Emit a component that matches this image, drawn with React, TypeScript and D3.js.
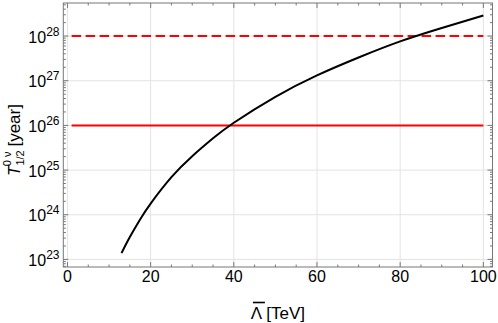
import React from "react";
import * as d3 from "d3";

const lambdaTeV = [13, 15, 17.5, 20, 25, 30, 35, 40, 50, 60, 70, 80, 90, 100];
const halfLifeExp = [23.14, 23.5, 23.9, 24.25, 24.84, 25.31, 25.71, 26.06, 26.64, 27.12, 27.52, 27.88, 28.18, 28.46];
const limitSolid = 1e26;
const limitDashed = 1e28;
const limitRange = [1, 100];
const xTicks = [0, 20, 40, 60, 80, 100];
const yDecades = [23, 24, 25, 26, 27, 28];

const W = 498, H = 323;
const L = 63.3, R = 492.5, T = 3, B = 267;

export default function App() {
  const x = d3.scaleLinear().domain([-1, 102.2]).range([L, R]);
  const y = d3.scaleLog().domain([Math.pow(10, 22.83), Math.pow(10, 28.74)]).range([B, T]);
  const pts: [number, number][] = lambdaTeV.map((l, i) => [l, Math.pow(10, halfLifeExp[i])]);
  const line = d3.line<[number, number]>().x(d => x(d[0])).y(d => y(d[1])).curve(d3.curveNatural);
  const frame = "#777";
  const grid = "#e3e3e3";
  const minorX = d3.range(0, 101, 5).filter(v => v % 20 !== 0);
  const minorY: number[] = [];
  for (let e = 22; e <= 28; e++) for (let m = 2; m <= 9; m++) {
    const v = m * Math.pow(10, e);
    if (v >= y.domain()[0] && v <= y.domain()[1]) minorY.push(v);
  }
  const font = "'Liberation Sans', Arial, sans-serif";
  return (
    <svg width={W} height={H} style={{ position: "absolute", left: 0, top: 0 }} fontFamily={font}>
      <rect x={0} y={0} width={W} height={H} fill="#fff" />
      {xTicks.map(t => <line key={"gx" + t} x1={x(t)} x2={x(t)} y1={T} y2={B} stroke={grid} strokeWidth={1} />)}
      {yDecades.map(e => <line key={"gy" + e} x1={L} x2={R} y1={y(Math.pow(10, e))} y2={y(Math.pow(10, e))} stroke={grid} strokeWidth={1} />)}
      {xTicks.map(t => <g key={"tx" + t}>
        <line x1={x(t)} x2={x(t)} y1={B} y2={B - 5} stroke={frame} />
        <line x1={x(t)} x2={x(t)} y1={T} y2={T + 5} stroke={frame} />
      </g>)}
      {minorX.map(t => <g key={"mx" + t}>
        <line x1={x(t)} x2={x(t)} y1={B} y2={B - 2.5} stroke={frame} />
        <line x1={x(t)} x2={x(t)} y1={T} y2={T + 2.5} stroke={frame} />
      </g>)}
      {yDecades.map(e => <g key={"ty" + e}>
        <line x1={L} x2={L + 5} y1={y(Math.pow(10, e))} y2={y(Math.pow(10, e))} stroke={frame} />
        <line x1={R} x2={R - 5} y1={y(Math.pow(10, e))} y2={y(Math.pow(10, e))} stroke={frame} />
      </g>)}
      {minorY.map((v, i) => <g key={"my" + i}>
        <line x1={L} x2={L + 2.5} y1={y(v)} y2={y(v)} stroke={frame} />
        <line x1={R} x2={R - 2.5} y1={y(v)} y2={y(v)} stroke={frame} />
      </g>)}
      <line x1={x(limitRange[0])} x2={x(limitRange[1])} y1={y(limitSolid)} y2={y(limitSolid)} stroke="#ff0000" strokeWidth={2} />
      <line x1={x(limitRange[0])} x2={x(limitRange[1])} y1={y(limitDashed)} y2={y(limitDashed)} stroke="#ff0000" strokeWidth={2} strokeDasharray="9.5,4.5" />
      <path d={line(pts) || ""} fill="none" stroke="#000" strokeWidth={2} />
      <rect x={L} y={T} width={R - L} height={B - T} fill="none" stroke={frame} strokeWidth={1} />
      {xTicks.map(t => <text key={"lx" + t} x={x(t)} y={281.5} textAnchor="middle" fontSize={16} fill="#000">{t}</text>)}
      {yDecades.map(e => <text key={"ly" + e} x={59.5} y={y(Math.pow(10, e)) + 6.5} textAnchor="end" fontSize={16} fill="#000">
        10<tspan dy={-7} fontSize={12}>{e}</tspan>
      </text>)}
      <g transform={`translate(${(L + R) / 2}, 318.5)`}>
        <text textAnchor="middle" fontSize={17} fill="#000">Λ<tspan dx={4}>[TeV]</tspan></text>
        <line x1={-25} x2={-13} y1={-16} y2={-16} stroke="#000" strokeWidth={1.6} />
      </g>
      <g transform={`translate(20, 140) rotate(-90)`}>
        <text textAnchor="middle" fontSize={17} fill="#000">
          <tspan fontStyle="italic">T</tspan>
          <tspan fontSize={11} dy={4}>1/2</tspan>
          <tspan fontSize={11} dy={-13} dx={-16}>0 ν</tspan>
          <tspan dy={9} dx={5}>[year]</tspan>
        </text>
      </g>
    </svg>
  );
}
